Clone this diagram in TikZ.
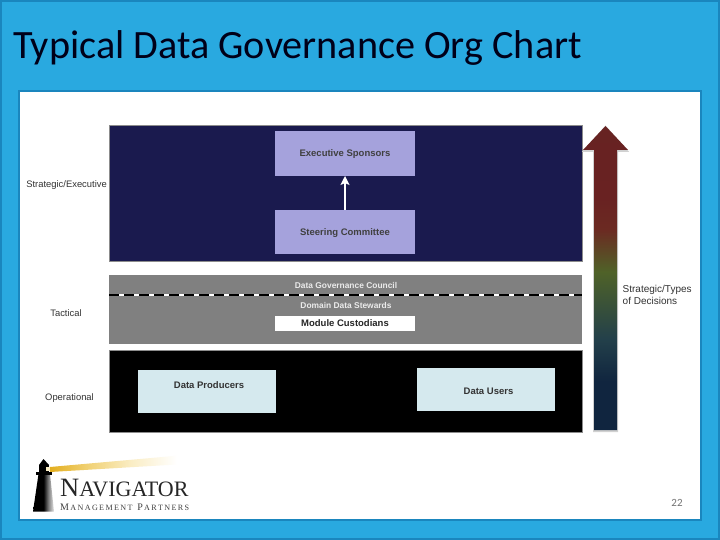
\documentclass[tikz,border=0pt]{standalone}
\usepackage{fontspec}
\setmainfont{Liberation Sans}
\newfontfamily\titlefont{Carlito}
\newfontfamily\logofont{Liberation Serif}
\usetikzlibrary{arrows.meta}

\definecolor{slideblue}{HTML}{29A9E0}
\definecolor{slideedge}{HTML}{1A86BE}
\definecolor{navypanel}{HTML}{1A1A4E}
\definecolor{greypanel}{HTML}{808080}
\definecolor{lilacbox}{HTML}{A5A2DC}
\definecolor{paleblue}{HTML}{D5E9EE}
\definecolor{arrowlow}{HTML}{10253F}
\definecolor{arrowteal}{HTML}{23404A}
\definecolor{arrowolive}{HTML}{4F6228}
\definecolor{arrowrust}{HTML}{6B2A22}
\definecolor{arrowred}{HTML}{692222}
\definecolor{arrowtop}{HTML}{632423}
\definecolor{towergrey}{HTML}{808080}
\definecolor{towerpale}{HTML}{E8E8E8}
\definecolor{beamgold}{HTML}{E3AE1E}
\definecolor{beammid}{HTML}{F0CF6E}
\definecolor{beampale}{HTML}{FAEDC4}

\pgfdeclareverticalshading{decisionshade}{100bp}{
  color(0bp)=(arrowlow);
  color(33bp)=(arrowlow);
  color(40bp)=(arrowteal);
  color(51bp)=(arrowolive);
  color(58bp)=(arrowrust);
  color(63bp)=(arrowred);
  color(100bp)=(arrowtop)}
\pgfdeclarehorizontalshading{towershade}{100bp}{
  color(0bp)=(black);
  color(50bp)=(black);
  color(62bp)=(towergrey);
  color(75bp)=(towerpale);
  color(100bp)=(towerpale)}
\pgfdeclarehorizontalshading{beamshade}{100bp}{
  color(0bp)=(beamgold);
  color(25bp)=(beamgold);
  color(38bp)=(beammid);
  color(55bp)=(beampale);
  color(72bp)=(white);
  color(100bp)=(white)}

\tikzset{
  panel/.style={shape=rectangle, inner sep=0pt, outer sep=0pt},
  tierbox/.style={panel, draw=black!45, line width=0.7pt, minimum width=473, anchor=north west},
  rolebox/.style={panel, text height=6.5pt, text depth=0pt, font=\bfseries\fontsize{9.5}{11}\selectfont},
  lilac/.style={rolebox, fill=lilacbox, text=black!75, minimum width=140},
  pale/.style={rolebox, fill=paleblue, minimum width=138, minimum height=43},
  ontier/.style={rolebox, text=white!92!black, font=\bfseries\fontsize{8.4}{10}\selectfont},
  paletext/.style={rolebox, text=black!80},
  sidelabel/.style={font=\fontsize{9.4}{12}\selectfont, text=black!80, inner sep=0pt, align=left}
}

\begin{document}
\begin{tikzpicture}[x=1pt, y=-1pt]
  \useasboundingbox (0,0) rectangle (720,540);

  % slide
  \fill[slideedge] (0,0) rectangle (720,540);
  \fill[slideblue] (2,2) rectangle (718,538);
  \node[panel, draw=slideedge, line width=1.5pt, fill=white, minimum width=682, minimum height=429, anchor=north west] (sheet) at (19,91) {};
  \node[anchor=base west, inner sep=0pt, text=black!90!blue, font=\titlefont\fontsize{40.2}{44}\selectfont] (title) at (13,59) {Typical Data Governance Org Chart};

  % tiers
  \node[tierbox, fill=navypanel, minimum height=136] (strategic) at (109,125) {};
  \node[tierbox, fill=greypanel, draw=none, minimum height=69] (tactical) at (109,275) {};
  \node[tierbox, fill=black, minimum height=82] (operational) at (109,350) {};

  \node[lilac, minimum height=45] (sponsors) at (345,153.5) {Executive Sponsors};
  \node[lilac, minimum height=44] (steering) at (345,232) {Steering Committee};
  \draw[-{Stealth[length=9pt, width=9pt, inset=2pt]}, white, line width=1.2pt] (steering) -- (sponsors);

  \node[ontier] (council) at (346,285) {Data Governance Council};
  \coordinate (dashleft) at (109,295.3);
  \coordinate (dashright) at (582,295.3);
  \draw[white, line width=2pt] (dashleft) -- (dashright);
  \draw[black, line width=2pt, dash pattern=on 10pt off 5pt] (dashleft) -- (dashright);
  \node[ontier] (stewards) at (346,305) {Domain Data Stewards};
  \node[rolebox, fill=white, text=black!85, minimum width=140, minimum height=15] (custodians) at (345,323.5) {Module Custodians};

  \node[pale] (producers) at (207,391.5) {};
  \node[paletext] (producerstext) at (209,385.5) {Data Producers};
  \node[pale] (users) at (486,389.5) {};
  \node[paletext] (userstext) at (488.5,391) {Data Users};

  % side labels
  \node[sidelabel, anchor=east] (execlabel) at (107,185) {Strategic/Executive};
  \node[sidelabel] (tacticallabel) at (66,313) {Tactical};
  \node[sidelabel] (oplabel) at (69.5,398) {Operational};
  \node[sidelabel, anchor=west, font=\fontsize{10}{12}\selectfont] (decisionlabel) at (622.5,295) {Strategic/Types\\of Decisions};

  % decision arrow
  \filldraw[black!18, line width=2pt] (594,431) -- (594,151) -- (584,151) -- (605.5,127) -- (627,151) -- (617,151) -- (617,431) -- cycle;
  \shade[shading=decisionshade] (594,430) -- (594,150) -- (583,150) -- (605.5,126) -- (628,150) -- (617,150) -- (617,430) -- cycle;

  % logo
  \shade[shading=beamshade] (50,467) -- (185,455) -- (185,464) -- (50,472) -- cycle;
  \shade[shading=towershade] (38.5,474) -- (50,474) -- (54,511.5) -- (33,511.5) -- cycle;
  \fill[black] (36,472) rectangle (52,474.5);
  \fill[black] (39,465) rectangle (49,472);
  \fill[black] (39,465) -- (43.5,459) -- (49,465) -- cycle;
  \fill[beampale] (46,466.5) rectangle (50,471);
  \node[anchor=base west, inner sep=0pt, text=black!85, font=\logofont\fontsize{22}{23}\selectfont] (navigator) at (60,496) {\fontsize{26.5}{26}\selectfont N\fontsize{22}{23}\selectfont AVIGATOR};
  \node[anchor=base west, inner sep=0pt, text=black!75, font=\logofont\fontsize{8.1}{9}\selectfont] (partners) at (60,510) {{\fontsize{10}{9}\selectfont M}\,A\,N\,A\,G\,E\,M\,E\,N\,T\, \,{\fontsize{10}{9}\selectfont P}\,A\,R\,T\,N\,E\,R\,S};

  \node[text=black!55, inner sep=0pt, font=\titlefont\fontsize{11}{13}\selectfont] (pagenum) at (677,503) {22};
\end{tikzpicture}
\end{document}
